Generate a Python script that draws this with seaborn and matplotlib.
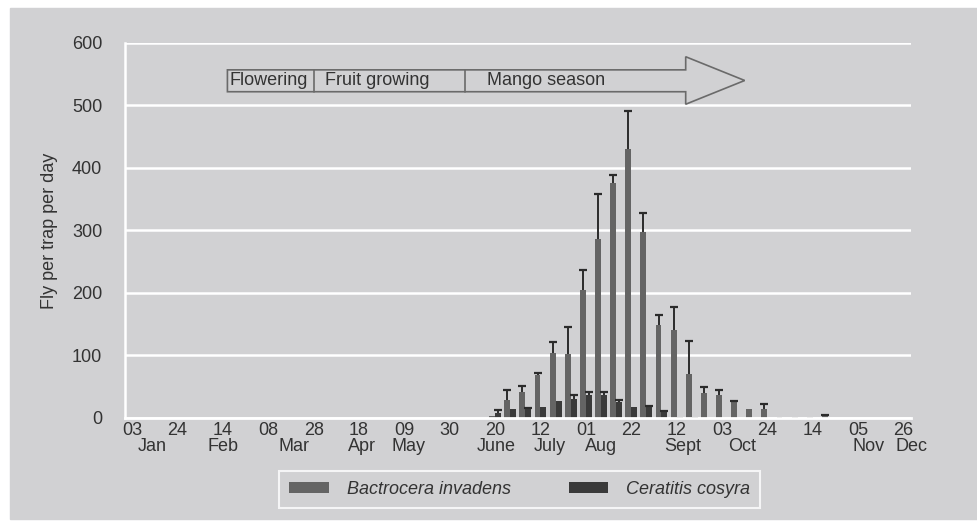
import numpy as np
import pandas as pd
import matplotlib
matplotlib.use("Agg")
import matplotlib.pyplot as plt
from matplotlib.patches import Polygon, Rectangle
import seaborn as sns

# Weekly trap catches (week 0 = 03 Jan ... week 51 = 26 Dec)
weeks = list(range(52))
species = ["Bactrocera invadens", "Ceratitis cosyra"]

b_invadens = [0] * 24 + [3, 28, 41, 69, 104, 102, 204, 286, 376, 430, 297, 149,
                         141, 70, 40, 36, 27, 15, 14, 2, 2, 2, 3, 0, 0, 0, 0, 0]
b_invadens_err = [0] * 24 + [0, 17, 10, 3, 17, 43, 33, 72, 13, 61, 31, 16,
                             36, 53, 9, 8, 0.5, 0, 9, 0, 0, 0, 1, 0, 0, 0, 0, 0]
c_cosyra = [0] * 24 + [8, 14, 14, 18, 27, 30, 36, 36, 25, 18, 18, 10,
                       2, 1, 0, 0, 0, 0, 0, 0, 0, 0, 0, 0, 0, 0, 0, 0]
c_cosyra_err = [0] * 24 + [5, 0, 2, 0, 0, 7, 6, 6, 3, 0, 1, 1,
                           0, 0, 0, 0, 0, 0, 0, 0, 0, 0, 0, 0, 0, 0, 0, 0]

day_labels = ["03", "24", "14", "08", "28", "18", "09", "30", "20", "12",
              "01", "22", "12", "03", "24", "14", "05", "26"]
months = ["Jan", "Feb", "Mar", "Apr", "May", "June", "July", "Aug",
          "Sept", "Oct", "Nov", "Dec"]
month_pos = [1.3, 6.0, 10.7, 15.2, 18.3, 24.1, 27.6, 31.0, 36.4, 40.3, 48.7, 51.5]

phases = ["Flowering", "Fruit growing", "Mango season"]
phase_edges = [6.3, 12.0, 22.0, 36.6]

df = pd.DataFrame({
    "week": weeks * 2,
    "value": b_invadens + c_cosyra,
    "species": [species[0]] * 52 + [species[1]] * 52,
})

sns.set_style("white")
plt.rcParams["font.family"] = ["Liberation Sans", "DejaVu Sans"]

bg = "#d1d1d3"
txt = "#333333"

fig = plt.figure(figsize=(9.77, 5.21), dpi=100, facecolor="white")
fig.patches.append(Rectangle((10 / 977, 2 / 521), 1, 511 / 521,
                             transform=fig.transFigure, color=bg, zorder=-10))
ax = fig.add_axes([0.1275, 0.1977, 0.805, 0.7198])
ax.set_facecolor(bg)

sns.barplot(data=df, x="week", y="value", hue="species", hue_order=species,
            palette=["#646464", "#3a3a3a"], errorbar=None, width=0.78,
            saturation=1, linewidth=0, ax=ax)

# upper-only error bars
for cont, errs in zip(ax.containers, [b_invadens_err, c_cosyra_err]):
    xs, ys, es = [], [], []
    for p, e in zip(cont.patches, errs):
        if e > 0:
            xs.append(p.get_x() + p.get_width() / 2)
            ys.append(p.get_height())
            es.append(e)
    eb = ax.errorbar(xs, ys, yerr=[np.zeros(len(es)), es], fmt="none",
                     ecolor="#2b2b2b", elinewidth=1.4, capsize=2.6,
                     capthick=1.6, zorder=3)
    eb[1][0].set_visible(False)  # drop the cap at the bar top

ax.set_ylim(0, 600)
ax.set_xlim(-0.5, 51.5)
ax.set_yticks(range(0, 601, 100))
ax.yaxis.grid(True, color="white", lw=1.8)
ax.set_axisbelow(True)
for s in ["top", "right"]:
    ax.spines[s].set_visible(False)
ax.spines["left"].set_color("white")
ax.spines["left"].set_linewidth(1.8)
ax.spines["bottom"].set_color("white")
ax.spines["bottom"].set_linewidth(2)

ax.set_xticks(range(0, 52, 3))
ax.set_xticklabels(day_labels)
ax.set_xticks(np.arange(-0.5, 52, 1), minor=True)
ax.tick_params(axis="x", which="major", length=0, pad=3, labelsize=13,
               labelcolor=txt)
ax.tick_params(axis="x", which="minor", length=4, width=1.5, color="white",
               direction="out")
ax.tick_params(axis="y", length=0, pad=16, labelsize=13, labelcolor=txt)

for m, pos in zip(months, month_pos):
    ax.text(pos, -0.077, m, transform=ax.get_xaxis_transform(), ha="center",
            va="center", fontsize=13, color=txt)

ax.set_xlabel("")
ax.set_ylabel("Fly per trap per day", fontsize=13, color=txt, labelpad=10)

# season arrow
x0, x1, x2, xm = phase_edges
tip = 40.5
arrow = Polygon([(x0, 522), (x0, 557), (xm, 557), (xm, 578), (tip, 540),
                 (xm, 502), (xm, 522)], closed=True, fc="none", ec="#6a6a6a",
                lw=1.2, clip_on=False, zorder=4)
ax.add_patch(arrow)
for xe in [x1, x2]:
    ax.plot([xe, xe], [522, 557], color="#6a6a6a", lw=1.2, zorder=4)
for name, xs in zip(phases, [x0 + 0.15, x1 + 0.75, x2 + 1.45]):
    ax.text(xs, 540, name, ha="left", va="center", fontsize=13, color=txt,
            zorder=5)

handles, labels = ax.get_legend_handles_labels()
if ax.get_legend() is not None:
    ax.get_legend().remove()
leg = fig.legend(handles, labels, loc="center", bbox_to_anchor=(0.532, 0.06),
                 ncol=2, frameon=True, fancybox=False, facecolor=bg,
                 edgecolor="white", fontsize=13, handlelength=2.2,
                 handleheight=0.55, columnspacing=3.2, borderpad=0.55,
                 handletextpad=1.0)
leg.get_frame().set_linewidth(1.5)
for t in leg.get_texts():
    t.set_fontstyle("italic")
    t.set_color(txt)

fig.savefig("out.png", dpi=100, facecolor="white")
